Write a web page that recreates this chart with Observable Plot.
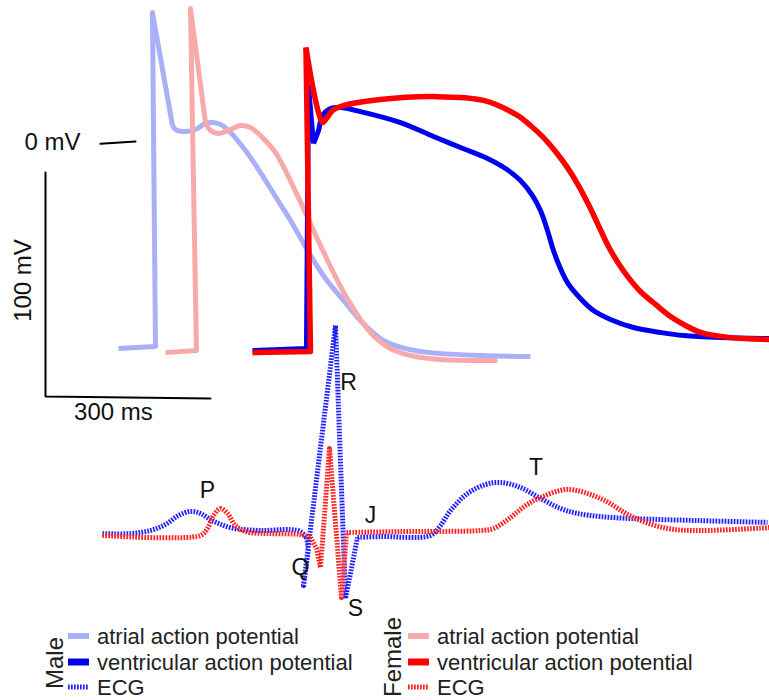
<!DOCTYPE html>
<html>
<head>
<meta charset="utf-8">
<script src="https://cdn.jsdelivr.net/npm/d3@7"></script>
<script src="https://cdn.jsdelivr.net/npm/@observablehq/plot@0.6"></script>
<style>
  html, body { margin: 0; padding: 0; background: #fff; }
  #chart { position: relative; width: 769px; height: 700px; font-family: "Liberation Sans", Arial, sans-serif; }
  #chart svg { display: block; }
  #legend { position: absolute; left: 0; top: 615px; }
</style>
</head>
<body>
<div id="chart"></div>
<script>
// time in ms, potential in mV (ECG drawn in the same vertical units, offset below)
const maleAtrial = [[132.7,-92.0],[200,-91.1],[194.5,58.0],[230.9,7.6],[236.4,5.8],[249.1,4.9],[272.7,5.8],[290.9,8.5],[303.6,8.9],[318.2,8.0],[336.4,4.5],[363.6,-3.6],[390.9,-13.4],[418.2,-24.1],[445.5,-34.8],[481.8,-50.4],[509.1,-60.7],[541.8,-70.5],[576.4,-80.4],[614.5,-88.4],[654.5,-92.0],[700,-93.8],[790.9,-95.1],[881.8,-95.5]];
const femaleAtrial = [[218.2,-93.8],[274.5,-92.9],[263.6,59.8],[290.9,8.9],[300,5.4],[312.7,4.0],[332.7,5.4],[354.5,7.6],[372.7,6.7],[390.9,3.1],[418.2,-4.5],[458.2,-23.7],[500,-46.0],[545.5,-68.3],[590.9,-84.8],[627.3,-92.0],[663.6,-95.1],[718.2,-96.9],[821.8,-97.3]];
const maleVentricular = [[376.4,-92.9],[474.5,-92.0],[478.2,25.0],[487.3,-0.4],[496.4,5.4],[503.6,12.1],[518.2,15.2],[536.4,15.6],[572.7,13.8],[645.5,8.9],[705.5,2.7],[754.5,-2.2],[803.6,-7.1],[836.4,-11.6],[863.6,-17.0],[885.5,-23.7],[900,-30.4],[912.7,-39.3],[923.6,-48.2],[936.4,-56.3],[949.1,-62.5],[972.7,-69.6],[996.4,-75.0],[1027.3,-79.0],[1069.1,-82.6],[1118.2,-84.8],[1160,-86.2],[1227.3,-87.1],[1316.4,-87.5]];
const femaleVentricular = [[376.4,-93.8],[481.8,-93.3],[473.6,42.4],[485.5,25.4],[496.4,13.4],[503.6,8.9],[510.9,10.7],[521.8,14.3],[541.8,16.5],[609.1,19.2],[705.5,20.5],[796.4,18.8],[858.2,12.1],[881.8,7.6],[905.5,2.2],[927.3,-4.0],[949.1,-11.2],[969.1,-19.2],[987.3,-27.7],[1005.5,-37.1],[1023.6,-46.4],[1041.8,-54.0],[1060,-60.3],[1081.8,-66.5],[1109.1,-72.3],[1136.4,-77.7],[1163.6,-81.7],[1190.9,-84.8],[1245.5,-87.1],[1316.4,-87.9]];
const maleECG = [[103.6,-174.6],[154.5,-174.6],[190.9,-173.2],[218.2,-170.5],[241.8,-166.5],[263.6,-164.7],[281.8,-165.6],[303.6,-168.8],[336.4,-171.9],[390.9,-173.2],[445.5,-172.8],[463.6,-173.7],[474.5,-176.3],[478.2,-181.3],[472.7,-191.1],[469.1,-197.8],[527.3,-81.7],[545.5,-203.6],[567.3,-176.3],[609.1,-175.9],[700,-175.4],[718.2,-171.0],[736.4,-164.3],[767.3,-156.7],[800,-152.7],[827.3,-151.8],[863.6,-154.0],[900,-158.9],[936.4,-163.4],[967.3,-165.6],[1009.1,-167.0],[1069.1,-167.9],[1190.9,-168.8],[1312.7,-169.6]];
const femaleECG = [[103.6,-175.4],[281.8,-175.4],[294.5,-172.3],[305.5,-166.5],[318.2,-163.4],[330.9,-165.6],[345.5,-171.0],[363.6,-173.7],[409.1,-174.6],[463.6,-175.0],[481.8,-176.3],[492.7,-181.3],[500,-189.7],[516.4,-136.6],[538.2,-203.1],[547.3,-174.1],[645.5,-173.7],[790.9,-173.2],[814.5,-172.3],[845.5,-167.4],[872.7,-162.1],[900,-158.5],[949.1,-154.9],[1009.1,-158.9],[1069.1,-167.4],[1130.9,-172.3],[1190.9,-173.2],[1316.4,-171.9]];
// index ranges [from, to] of the sharp (straight-segment) parts of each trace
const sharpParts = {
  maleAtrial: [0, 3], femaleAtrial: [0, 3],
  maleVentricular: [0, 3], femaleVentricular: [0, 2],
  maleECG: [12, 18], femaleECG: [10, 15]
};
const waveLabels = [
  {t: 294.5, v: -155.4, text: "P"},
  {t: 463.6, v: -189.7, text: "Q"},
  {t: 550.9, v: -107.1, text: "R"},
  {t: 563.6, v: -208.0, text: "S"},
  {t: 590.9, v: -166.5, text: "J"},
  {t: 892.0, v: -145.1, text: "T"}
];
const scaleBar = [[0,-13.4],[0,-113.4],[300,-114.3]];
const zeroTick = [[100,-0.6],[163.6,0.4]];
const zeroLabel = [{t: 63.6, v: 0, text: "0 mV"}];
const vBarLabel = [{t: -40, v: -61.6, text: "100 mV"}];
const hBarLabel = [{t: 123.6, v: -120.5, text: "300 ms"}];

const colors = {
  maleAtrial: "#aab0f8", femaleAtrial: "#f8aaaa",
  maleVent: "#0000ee", femaleVent: "#ff0000",
  maleECG: "#2020ff", femaleECG: "#ff2020"
};

const X = d => d[0], Y = d => d[1];
const ecgDash = "1.7,1.3";

function trace(data, [a, b], opts) {
  const o = {x: X, y: Y, strokeLinecap: "butt", ...opts};
  const m = [];
  if (a > 0) m.push(Plot.line(data.slice(0, a + 1), {...o, curve: "catmull-rom"}));
  m.push(Plot.line(data.slice(a, b + 1), {...o, curve: "linear"}));
  if (b < data.length - 1) m.push(Plot.line(data.slice(b), {...o, curve: "catmull-rom"}));
  return m;
}

const font = '"Liberation Sans", Arial, sans-serif';
const plot = Plot.plot({
  width: 769, height: 700,
  marginTop: 0, marginRight: 0, marginBottom: 0, marginLeft: 0,
  x: {domain: [-81.8, 1316.4], axis: null},
  y: {domain: [-249.1, 63.4], axis: null},
  style: {fontFamily: font, background: "#fff"},
  marks: [
    Plot.line(scaleBar, {x: X, y: Y, stroke: "#000", strokeWidth: 2, strokeLinejoin: "miter"}),
    Plot.line(zeroTick, {x: X, y: Y, stroke: "#000", strokeWidth: 2}),
    Plot.text(zeroLabel, {x: "t", y: "v", text: "text", textAnchor: "end", fontSize: 24, fill: "#111"}),
    Plot.text(vBarLabel, {x: "t", y: "v", text: "text", rotate: -90, fontSize: 24, fill: "#111"}),
    Plot.text(hBarLabel, {x: "t", y: "v", text: "text", fontSize: 24, fill: "#111"}),
    ...trace(maleAtrial, sharpParts.maleAtrial, {stroke: colors.maleAtrial, strokeWidth: 5}),
    ...trace(femaleAtrial, sharpParts.femaleAtrial, {stroke: colors.femaleAtrial, strokeWidth: 5}),
    ...trace(maleVentricular, sharpParts.maleVentricular, {stroke: colors.maleVent, strokeWidth: 5}),
    ...trace(femaleVentricular, sharpParts.femaleVentricular, {stroke: colors.femaleVent, strokeWidth: 5.5}),
    ...trace(maleECG, sharpParts.maleECG, {stroke: colors.maleECG, strokeWidth: 5, strokeDasharray: ecgDash}),
    ...trace(femaleECG, sharpParts.femaleECG, {stroke: colors.femaleECG, strokeWidth: 5, strokeDasharray: ecgDash}),
    Plot.text(waveLabels, {x: "t", y: "v", text: "text", fontSize: 23, fill: "#111"})
  ]
});
document.getElementById("chart").appendChild(plot);

// Legend below the traces
const legendGroups = [
  {title: "Male", tx: 54, ty: 48, sx: 68, items: [
    {label: "atrial action potential", color: colors.maleAtrial, w: 6, dash: null},
    {label: "ventricular action potential", color: colors.maleVent, w: 7, dash: null},
    {label: "ECG", color: colors.maleECG, w: 5, dash: ecgDash}
  ]},
  {title: "Female", tx: 392, ty: 42, sx: 408, items: [
    {label: "atrial action potential", color: colors.femaleAtrial, w: 6, dash: null},
    {label: "ventricular action potential", color: colors.femaleVent, w: 7, dash: null},
    {label: "ECG", color: colors.femaleECG, w: 5, dash: ecgDash}
  ]}
];
const rowY = [21, 47, 72];
const lg = d3.select("#chart").append("svg").attr("id", "legend").attr("width", 769).attr("height", 85)
  .style("font-family", font);
legendGroups.forEach(g => {
  lg.append("text").attr("transform", `translate(${g.tx},${g.ty}) rotate(-90)`)
    .attr("text-anchor", "middle").attr("dominant-baseline", "central")
    .attr("font-size", 24).attr("fill", "#222").text(g.title);
  g.items.forEach((it, i) => {
    const y = rowY[i];
    lg.append("line").attr("x1", g.sx).attr("x2", g.sx + 21).attr("y1", y).attr("y2", y)
      .attr("stroke", it.color).attr("stroke-width", it.w)
      .attr("stroke-dasharray", it.dash);
    lg.append("text").attr("x", g.sx + 29).attr("y", y).attr("dominant-baseline", "central")
      .attr("font-size", 22).attr("fill", "#222").text(it.label);
  });
});
</script>
</body>
</html>
